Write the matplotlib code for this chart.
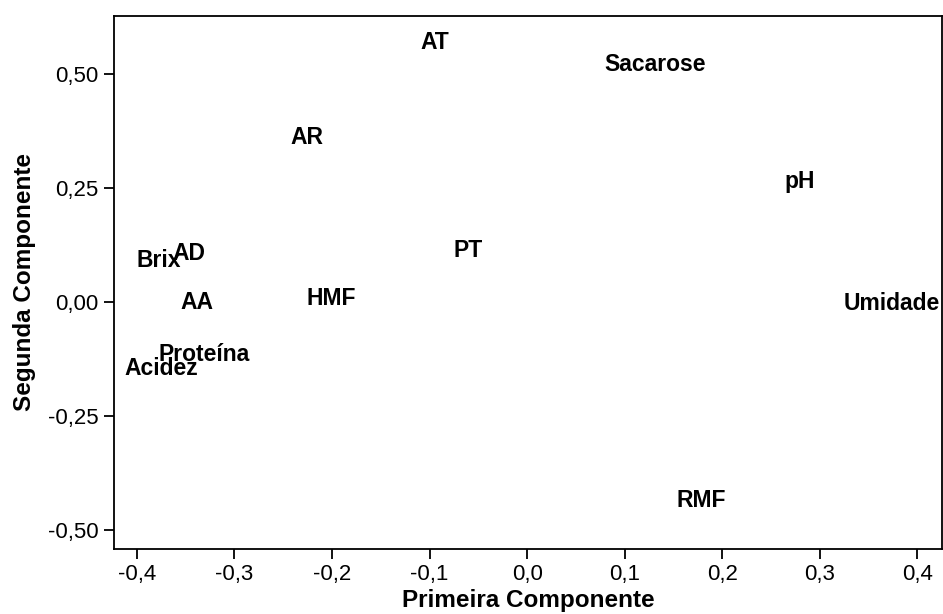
import matplotlib
matplotlib.use("Agg")
import matplotlib.pyplot as plt
from matplotlib.ticker import FuncFormatter

# Component loadings (first, second component) for each variable
variables = ["AT", "Sacarose", "AR", "pH", "PT", "HMF", "Brix", "AD",
             "AA", "Umidade", "Proteína", "Acidez", "RMF"]
pc1 = [-0.095, 0.131, -0.226, 0.279, -0.060, -0.201, -0.378, -0.347,
       -0.339, 0.374, -0.331, -0.375, 0.179]
pc2 = [0.570, 0.520, 0.361, 0.264, 0.114, 0.007, 0.090, 0.107,
       -0.002, -0.004, -0.116, -0.145, -0.436]

x_ticks = [-0.4, -0.3, -0.2, -0.1, 0.0, 0.1, 0.2, 0.3, 0.4]
y_ticks = [-0.50, -0.25, 0.00, 0.25, 0.50]

plt.rcParams['font.family'] = ['Liberation Sans', 'DejaVu Sans']

fig = plt.figure(figsize=(9.43, 6.14), dpi=100)
ax = fig.add_axes([0.1209, 0.1059, 0.8777, 0.8685])

# variable names drawn at their loadings, no markers
for name, x, y in zip(variables, pc1, pc2):
    ax.text(x, y, name, ha='center', va='center', fontsize=16.5,
            fontweight='bold', color='black', clip_on=False)

ax.set_xlim(-0.4235, 0.4250)
ax.set_ylim(-0.5417, 0.628)

ax.set_xticks(x_ticks)
ax.set_yticks(y_ticks)
ax.xaxis.set_major_formatter(FuncFormatter(lambda v, p: f"{v:.1f}".replace(".", ",").replace("-0,0", "0,0")))
ax.yaxis.set_major_formatter(FuncFormatter(lambda v, p: f"{v:.2f}".replace(".", ",").replace("-0,00", "0,00")))
ax.tick_params(direction='out', length=7, width=1.3, labelsize=16, pad=4, color='black')

for side in ax.spines.values():
    side.set_linewidth(1.3)

ax.set_xlabel("Primeira Componente", fontsize=17.5, fontweight='bold', labelpad=3)
ax.set_ylabel("Segunda Componente", fontsize=17.5, fontweight='bold', labelpad=9)

fig.savefig("out.png", dpi=100)
